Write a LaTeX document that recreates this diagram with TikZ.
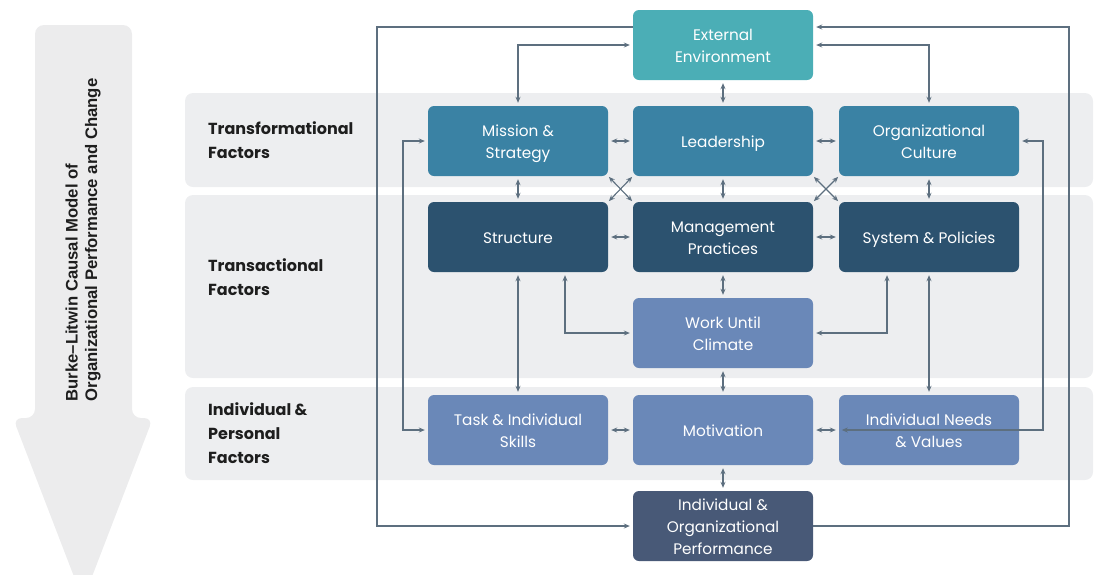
\documentclass[tikz,border=0pt]{standalone}
\usepackage{fontspec}
\setmainfont{Poppins}
\newfontfamily\titlefont{Liberation Sans}
\usetikzlibrary{arrows.meta,calc}
\definecolor{cEnv}{HTML}{4BAEB6}
\definecolor{cTf}{HTML}{3A82A4}
\definecolor{cTa}{HTML}{2C526F}
\definecolor{cInd}{HTML}{6A88B8}
\definecolor{cPerf}{HTML}{485977}
\definecolor{cBand}{HTML}{EDEEF0}
\definecolor{cBig}{HTML}{ECECED}
\definecolor{cLine}{HTML}{5D6F7F}
\definecolor{cLab}{HTML}{1E1E1E}
\newcommand\bt[1]{\raisebox{-2pt}[\height][\depth]{\begin{tabular}{@{}c@{}}#1\end{tabular}}}
\begin{document}
\begin{tikzpicture}[x=1pt,y=-1pt,
  box/.style={rectangle, rounded corners=6pt, minimum width=180pt, minimum height=70pt,
    inner sep=0pt, text=white, font=\fontsize{15.3}{22}\selectfont},
  lab/.style={anchor=west, align=left, text=cLab, inner sep=0pt, font=\bfseries\fontsize{16}{24}\selectfont},
  conn/.style={draw=cLine, line width=1.1pt, shorten >=3pt, shorten <=3pt},
  tip/.style={-{Stealth[length=6pt,width=5pt]}},
  tips/.style={{Stealth[length=6pt,width=5pt]}-{Stealth[length=6pt,width=5pt]}}
]
\useasboundingbox (0,0) rectangle (1094,574);
\clip (0,0) rectangle (1094,574);
% big arrow
\fill[cBig, rounded corners=9pt] (35,25) -- (132,25) -- (132,418) -- (153,418) -- (83,600) -- (13,418) -- (35,418) -- cycle;
\node[rotate=90, align=left, inner sep=0pt, text=cLab, font=\titlefont\bfseries\fontsize{16.7}{19.5}\selectfont] (title) at (83,240)
  {Burke–Litwin Causal Model of\\Organizational Performance and Change};
% bands
\fill[cBand, rounded corners=8pt] (185,93) rectangle (1093,187);
\fill[cBand, rounded corners=8pt] (185,195) rectangle (1093,378);
\fill[cBand, rounded corners=8pt] (185,387) rectangle (1093,480);
\node[lab] (l1) at (208,140) {Transformational\\Factors};
\node[lab] (l2) at (208,277) {Transactional\\Factors};
\node[lab] (l3) at (208,433) {Individual \&\\Personal\\Factors};
% boxes
\node[box, fill=cEnv] (ee) at (723,45) {\bt{External\\Environment}};
\node[box, fill=cTf] (mission) at (518,141) {\bt{Mission \&\\Strategy}};
\node[box, fill=cTf] (leader) at (723,141) {\bt{Leadership}};
\node[box, fill=cTf] (culture) at (929,141) {\bt{Organizational\\Culture}};
\node[box, fill=cTa] (structure) at (518,237) {\bt{Structure}};
\node[box, fill=cTa] (mgmt) at (723,237) {\bt{Management\\Practices}};
\node[box, fill=cTa] (system) at (929,237) {\bt{System \& Policies}};
\node[box, fill=cInd] (work) at (723,333) {\bt{Work Until\\Climate}};
\node[box, fill=cInd] (task) at (518,430) {\bt{Task \& Individual\\Skills}};
\node[box, fill=cInd] (motiv) at (723,430) {\bt{Motivation}};
\node[box, fill=cInd] (needs) at (929,430) {\bt{Individual Needs\\\& Values}};
\node[box, fill=cPerf] (perf) at (723,526) {\bt{Individual \&\\Organizational\\Performance}};
% helper coordinates
\coordinate (lb) at (377,526);
\coordinate (rt) at (1069,27);
\coordinate (lbr) at (403,285);
\coordinate (rbr) at (1043,285);
% outer loops
\draw[conn, tip, shorten <=0pt] ([yshift=18pt]ee.west) -| (lb) -- (perf.west);
\draw[conn, tip, shorten <=0pt] (perf.east) -| (rt) -- ([yshift=18pt]ee.east);
% environment links
\draw[conn, tips] (ee.west) -| (mission.north);
\draw[conn, tips] (ee.east) -| (culture.north);
\draw[conn, tips] (ee.south) -- (leader.north);
% transformational row
\draw[conn, tips] (mission.east) -- (leader.west);
\draw[conn, tips] (leader.east) -- (culture.west);
\draw[conn, tips] (mission.south) -- (structure.north);
\draw[conn, tips] (leader.south) -- (mgmt.north);
\draw[conn, tips] (culture.south) -- (system.north);
\draw[conn, tips, shorten >=1pt, shorten <=1pt] (mission.south east) -- (mgmt.north west);
\draw[conn, tips, shorten >=1pt, shorten <=1pt] (leader.south west) -- (structure.north east);
\draw[conn, tips, shorten >=1pt, shorten <=1pt] (leader.south east) -- (system.north west);
\draw[conn, tips, shorten >=1pt, shorten <=1pt] (culture.south west) -- (mgmt.north east);
% transactional row
\draw[conn, tips] (structure.east) -- (mgmt.west);
\draw[conn, tips] (mgmt.east) -- (system.west);
\draw[conn, tips] (mgmt.south) -- (work.north);
\draw[conn, tips] ([xshift=47pt]structure.south) |- (work.west);
\draw[conn, tips] ([xshift=-42pt]system.south) |- (work.east);
\draw[conn, tips] (structure.south) -- (task.north);
\draw[conn, tips] (system.south) -- (needs.north);
% individual row
\draw[conn, tips] (work.south) -- (motiv.north);
\draw[conn, tips] (task.east) -- (motiv.west);
\draw[conn, tips] (motiv.east) -- (needs.west);
\draw[conn, tips] (motiv.south) -- (perf.north);
% side brackets
\draw[conn, tips] (mission.west) -| (lbr) |- (task.west);
\draw[conn, tips] (culture.east) -| (rbr) |- (needs.west);
\end{tikzpicture}
\end{document}
